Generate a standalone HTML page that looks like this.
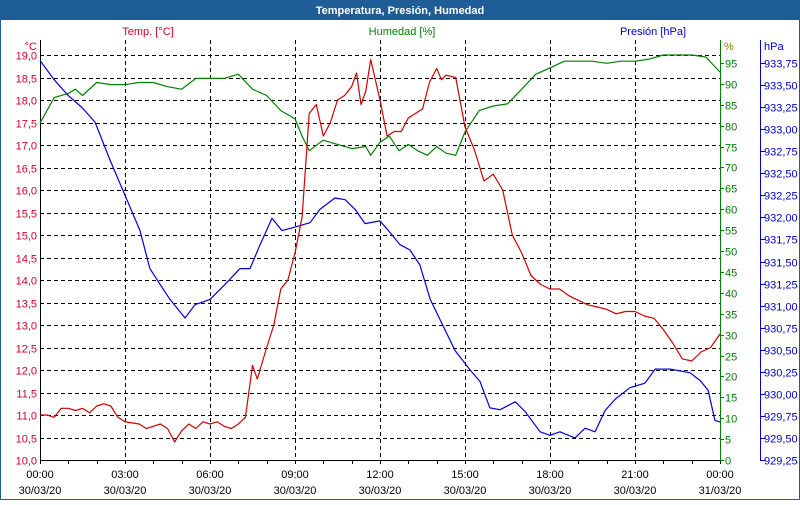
<!DOCTYPE html>
<html><head><meta charset="utf-8"><style>
body{margin:0;width:800px;height:500px;overflow:hidden;background:#fff;font-family:"Liberation Sans",sans-serif}
svg text{font-family:"Liberation Sans",sans-serif;font-size:11px}
</style></head><body>
<svg id="c" width="800" height="500" xmlns="http://www.w3.org/2000/svg">
<rect x="0" y="0" width="800" height="500" fill="#fff"/>
<rect x="0.5" y="0.5" width="799" height="499" fill="none" stroke="#1f5d96"/>
<rect x="0" y="0" width="800" height="20" fill="#1f5d96"/>
<text x="400" y="14" text-anchor="middle" fill="#fff" font-weight="bold">Temperatura, Presión, Humedad</text>
<text x="148" y="35" text-anchor="middle" fill="#d0002a">Temp. [°C]</text>
<text x="402" y="35" text-anchor="middle" fill="#008000">Humedad [%]</text>
<text x="653" y="35" text-anchor="middle" fill="#0000cc">Presión [hPa]</text>
<text x="37" y="50" text-anchor="end" fill="#d0002a">°C</text>
<text x="724" y="50" fill="#808000">%</text>
<text x="764" y="50" fill="#0000cc">hPa</text>
<g id="grid"></g><g id="axes"></g><g id="series"></g>
</svg>
<script>
const tempTimes=[0,0.25,0.5,0.75,1,1.25,1.5,1.75,2,2.25,2.5,2.75,3,3.5,3.75,4,4.25,4.5,4.75,5,5.25,5.5,5.75,6,6.25,6.5,6.75,7,7.25,7.5,7.67,8,8.25,8.5,8.75,9,9.25,9.5,9.75,10,10.25,10.5,10.75,11,11.17,11.33,11.5,11.67,12,12.25,12.5,12.75,13,13.25,13.5,13.75,14,14.17,14.33,14.67,15,15.33,15.67,16,16.33,16.67,17,17.33,17.67,18,18.33,18.67,19,19.33,19.67,20,20.33,20.67,21,21.33,21.67,22,22.33,22.67,23,23.33,23.67,24];
const tempValues=[11.0,11.0,10.95,11.15,11.15,11.1,11.15,11.05,11.2,11.25,11.2,10.95,10.85,10.8,10.7,10.75,10.8,10.7,10.4,10.65,10.8,10.7,10.85,10.8,10.85,10.75,10.7,10.8,10.95,12.1,11.8,12.5,13.0,13.8,14.0,14.6,15.4,17.7,17.9,17.2,17.5,18.0,18.1,18.3,18.6,17.9,18.2,18.9,18.0,17.2,17.3,17.3,17.6,17.7,17.8,18.4,18.7,18.45,18.55,18.5,17.4,16.9,16.2,16.35,16.0,15.0,14.6,14.1,13.9,13.8,13.8,13.65,13.55,13.45,13.4,13.35,13.25,13.3,13.3,13.2,13.15,12.9,12.6,12.25,12.2,12.4,12.5,12.8];
const humTimes=[0,0.5,1,1.25,1.5,2,2.5,3,3.5,4,4.5,5,5.5,6,6.5,7,7.5,8,8.5,9,9.25,9.5,10,10.5,11,11.5,11.67,12,12.33,12.67,13,13.33,13.67,14,14.33,14.67,15,15.5,16,16.5,17,17.5,18,18.5,19,19.5,20,20.5,21,21.5,22,22.5,23,23.5,24];
const humValues=[80.6,86.7,87.7,88.7,87.2,90.3,89.8,89.8,90.3,90.3,89.3,88.7,91.3,91.3,91.3,92.3,88.7,87.2,83.6,81.6,77.5,74,76.5,75.5,74.5,75,72.9,76,77.5,74,75.5,74,72.9,75,73.4,72.9,78.5,83.6,84.7,85.2,88.7,92.3,93.8,95.4,95.4,95.4,94.9,95.4,95.4,95.9,96.9,96.9,96.9,96.4,92.8];
const presTimes=[0,0.5,1,1.5,1.94,2.47,3,3.53,3.88,4.24,4.59,5.12,5.47,6,6.53,7.06,7.41,7.77,8.19,8.54,9,9.53,9.88,10.41,10.77,11.12,11.47,12,12.35,12.71,13.06,13.41,13.77,14.3,14.65,15.18,15.53,15.88,16.24,16.77,17.12,17.65,18,18.35,18.88,19.24,19.59,19.94,20.3,20.82,21.35,21.71,22.24,22.94,23.3,23.58,23.82,24];
const presValues=[933.78,933.56,933.38,933.24,933.08,932.65,932.25,931.85,931.42,931.24,931.07,930.86,931.01,931.07,931.24,931.42,931.42,931.69,931.99,931.85,931.89,931.94,932.09,932.22,932.20,932.09,931.93,931.96,931.83,931.69,931.63,931.46,931.07,930.72,930.49,930.27,930.14,929.84,929.82,929.91,929.80,929.57,929.53,929.57,929.50,929.61,929.57,929.81,929.94,930.07,930.12,930.28,930.28,930.24,930.15,930.04,929.70,929.68];
const tempTicks=["10,0","10,5","11,0","11,5","12,0","12,5","13,0","13,5","14,0","14,5","15,0","15,5","16,0","16,5","17,0","17,5","18,0","18,5","19,0"];
const humTicks=["0","5","10","15","20","25","30","35","40","45","50","55","60","65","70","75","80","85","90","95"];
const presTicks=["929,25","929,50","929,75","930,00","930,25","930,50","930,75","931,00","931,25","931,50","931,75","932,00","932,25","932,50","932,75","933,00","933,25","933,50","933,75"];
const timeLabels=["00:00","03:00","06:00","09:00","12:00","15:00","18:00","21:00","00:00"];
const dateLabels=["30/03/20","30/03/20","30/03/20","30/03/20","30/03/20","30/03/20","30/03/20","30/03/20","31/03/20"];

const X0=40,X1=720,YB=460,YT=55;
const xS=h=>X0+(X1-X0)*h/24;
const yT=v=>YB-(v-10)*(YB-YT)/9;
const yH=v=>YB-v*4.18;
const yP=v=>YB-(v-929.25)*397/4.5;
const NS="http://www.w3.org/2000/svg";
function mk(p,tag,at,txt){const e=document.createElementNS(NS,tag);for(const k in at)e.setAttribute(k,at[k]);if(txt!==undefined)e.textContent=txt;p.appendChild(e);return e;}
const grid=document.getElementById('grid'),axes=document.getElementById('axes'),ser=document.getElementById('series');
tempTicks.forEach((t,i)=>{const y=Math.round(yT(10+i*0.5))+0.5;
 const l=mk(grid,'line',{x1:X0,x2:X1,y1:y,y2:y,stroke:'#000','stroke-dasharray':'4,3'});
 
 
 const tx=mk(axes,'text',{x:37,y:y+4,'text-anchor':'end',fill:'#d0002a'},t);
 
 
});
humTicks.forEach((t,i)=>{const y=Math.round(yH(i*5))+0.5;
 mk(axes,'line',{x1:X1,x2:X1+4,y1:y,y2:y,stroke:'#008000'});
 const tx=mk(axes,'text',{x:725,y:y+4,fill:'#008000'},t);
 
 
});
presTicks.forEach((t,i)=>{const y=Math.round(yP(929.25+i*0.25))+0.5;
 mk(axes,'line',{x1:761,x2:765,y1:y,y2:y,stroke:'#0000cc'});
 const tx=mk(axes,'text',{x:764,y:y+4,fill:'#0000cc'},t);
 
 
});
for(let h=0;h<=24;h++){const x=Math.round(xS(h))+0.5;
 mk(axes,'line',{x1:x,x2:x,y1:YB,y2:YB+4,stroke:'#000'});
 if(h%3===0&&h>0&&h<24){const l=mk(grid,'line',{x1:x,x2:x,y1:40,y2:YB,stroke:'#000','stroke-dasharray':'4,3'});
  
  }
}
timeLabels.forEach((t,i)=>{const x=xS(i*3);
 const a=mk(axes,'text',{x:x,y:478,'text-anchor':'middle',fill:'#000'},t);
 
 
 const b=mk(axes,'text',{x:x,y:494,'text-anchor':'middle',fill:'#000'},dateLabels[i]);
 
 
});
mk(axes,'line',{x1:40.5,x2:40.5,y1:40,y2:461,stroke:'#000'});
mk(axes,'line',{x1:40,x2:721,y1:460.5,y2:460.5,stroke:'#000'});
mk(axes,'line',{x1:720.5,x2:720.5,y1:40,y2:461,stroke:'#008000'});
mk(axes,'line',{x1:760.5,x2:760.5,y1:40,y2:461,stroke:'#0000cc'});
function line(ts,vs,ys,col,name){
 const d=ts.map((t,i)=>(i?'L':'M')+xS(t).toFixed(1)+','+ys(vs[i]).toFixed(1)).join(' ');
 const p=mk(ser,'path',{d:d,fill:'none',stroke:col,'stroke-width':1.2,'stroke-linejoin':'round'});
 
 
}
line(humTimes,humValues,yH,'#008000','humidity-line');
line(presTimes,presValues,yP,'#0000dd','pressure-line');
line(tempTimes,tempValues,yT,'#d00000','temperature-line');
</script>
</body></html>
